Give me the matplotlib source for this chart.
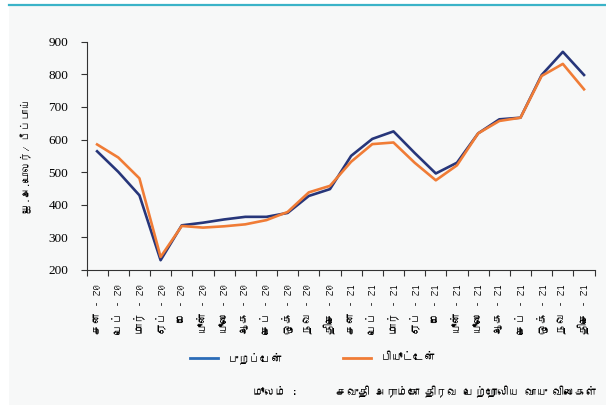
import matplotlib
matplotlib.use("Agg")
import matplotlib.pyplot as plt
from matplotlib import font_manager
from matplotlib.ft2font import FT2Font
from matplotlib.lines import Line2D
from matplotlib.patches import Rectangle

# Saudi Aramco LPG contract prices, US$ per unit
months = ["சன", "பெப்", "மார்", "ஏப்", "மே", "யூன்",
          "யூலை", "ஆக", "செப்", "ஒக்", "நவ", "திசெ"]
years = ["20", "21"]
labels = [f"{m} - {y}" for y in years for m in months]

propane = [564, 501, 429, 230, 337, 345, 355, 363, 363, 375, 427, 448,
           550, 602, 625, 559, 496, 529, 619, 662, 667, 798, 869, 798]
butane = [585, 545, 481, 240, 335, 330, 334, 340, 353, 378, 438, 458,
          532, 586, 591, 529, 475, 521, 619, 657, 667, 795, 832, 754]

series_names = ["புறப்பேன்", "பியூட்டேன்"]
ylabel = "ஐ.அ.டொலர்/ பீப்பாய்"
source_head = "மூலம் :"
source_text = "சவுதி அராம்கோ திரவ பெற்றோலிய வாயு விலைகள்"


def find_tamil_font():
    # pick any installed font that has Tamil glyphs
    for f in font_manager.fontManager.ttflist:
        try:
            if 0x0B95 in FT2Font(f.fname).get_charmap():
                return f.name
        except Exception:
            continue
    return None


tamil = find_tamil_font()
fam = [tamil, "DejaVu Sans"] if tamil else ["DejaVu Sans"]
plt.rcParams["font.family"] = fam

BLUE = "#27367a"
BLUE_LEG = "#2b6cb8"
ORANGE = "#f07c36"
BG = "#f7f8f8"

fig = plt.figure(figsize=(6.06, 4.05), dpi=100, facecolor="white")
fig.patches.append(Rectangle((9 / 606, 0), 1, 1 - 6 / 405, transform=fig.transFigure,
                             facecolor=BG, edgecolor="none", zorder=-5))
fig.add_artist(Line2D([9 / 606, 1], [1 - 4.8 / 405] * 2, transform=fig.transFigure,
                      color="#3bb3c8", lw=1.6))

ax = fig.add_axes([86.5 / 606, 135 / 405, (594.6 - 86.5) / 606, (363.3 - 135) / 405])
ax.set_facecolor("none")

x = range(len(labels))
ax.plot(x, propane, color=BLUE, lw=1.9, zorder=3)
ax.plot(x, butane, color=ORANGE, lw=1.9, zorder=3)

ax.set_xlim(-0.5, len(labels) - 0.5)
ax.set_ylim(200, 900)
ax.set_yticks(range(200, 901, 100))
for t in ax.set_yticklabels([str(v) for v in range(200, 901, 100)]):
    t.set_family(["Liberation Serif"])
    t.set_fontsize(9.5)
ax.tick_params(axis="y", length=4, width=0.8, pad=9, color="#333333")

ax.set_xticks(list(x))
ax.set_xticklabels(labels, rotation=90, fontsize=8)
ax.set_xticks([i - 0.5 for i in range(len(labels) + 1)], minor=True)
ax.tick_params(axis="x", which="major", length=0, pad=10)
ax.tick_params(axis="x", which="minor", length=4, width=0.8, color="#333333")

for side in ["top", "right"]:
    ax.spines[side].set_visible(False)
for side in ["left", "bottom"]:
    ax.spines[side].set_color("#333333")
    ax.spines[side].set_linewidth(0.8)

ax.set_ylabel(ylabel, fontsize=7.5, labelpad=12)

# one legend per series so each entry sits where the reference has it
for color, name, x0 in [(BLUE_LEG, series_names[0], 190), (ORANGE, series_names[1], 343)]:
    fig.legend([Line2D([], [], color=color, lw=2)], [name], loc="center left",
               bbox_to_anchor=(x0 / 606, 1 - 358 / 405), frameon=False, fontsize=8,
               handlelength=2.5, handletextpad=0.9, borderpad=0, borderaxespad=0)

fig.text(253 / 606, 1 - 392 / 405, source_head, fontsize=8, style="italic", va="center")
fig.text(597 / 606, 1 - 392 / 405, source_text, fontsize=8, va="center", ha="right")

fig.savefig("out.png", dpi=100, facecolor=fig.get_facecolor())
